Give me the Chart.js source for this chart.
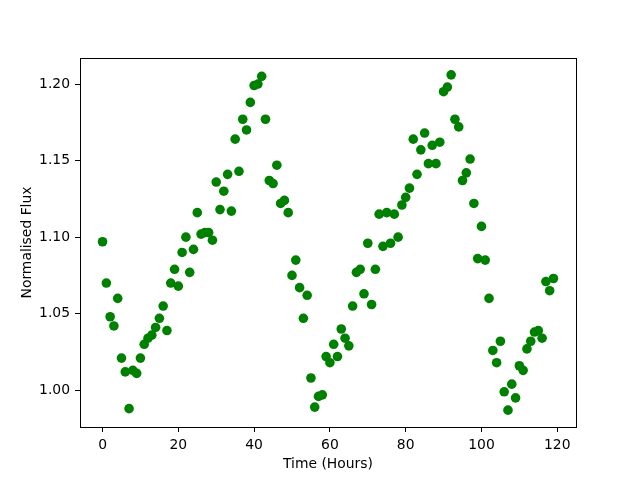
<!DOCTYPE html>
<html>
<head>
<meta charset="utf-8">
<script src="https://cdn.jsdelivr.net/npm/chart.js@4/dist/chart.umd.min.js"></script>
<style>
  html, body { margin: 0; padding: 0; background: #fff; }
  #wrap { width: 640px; height: 480px; }
</style>
</head>
<body>
<div id="wrap"><canvas id="fluxChart" width="640" height="480"></canvas></div>
<script>
// light curve readings
const hours = [
  0, 1, 2, 3, 4, 5, 6, 7, 8, 9, 10, 11, 12, 13, 14, 15, 16, 17, 18, 19,
  20, 21, 22, 23, 24, 25, 26, 27, 28, 29, 30, 31, 32, 33, 34, 35, 36, 37, 38, 39,
  40, 41, 42, 43, 44, 45, 46, 47, 48, 49, 50, 51, 52, 53, 54, 55, 56, 57, 58, 59,
  60, 61, 62, 63, 64, 65, 66, 67, 68, 69, 70, 71, 72, 73, 74, 75, 76, 77, 78, 79,
  80, 81, 82, 83, 84, 85, 86, 87, 88, 89, 90, 91, 92, 93, 94, 95, 96, 97, 98, 99,
  100, 101, 102, 103, 104, 105, 106, 107, 108, 109, 110, 111, 112, 113, 114, 115, 116, 117, 118, 119
];
const flux = [
  1.097, 1.070, 1.048, 1.042, 1.060, 1.021, 1.012, 0.988, 1.013, 1.011,
  1.021, 1.030, 1.034, 1.036, 1.041, 1.047, 1.055, 1.039, 1.070, 1.079,
  1.068, 1.090, 1.100, 1.077, 1.092, 1.116, 1.102, 1.103, 1.103, 1.098,
  1.136, 1.118, 1.130, 1.141, 1.117, 1.164, 1.143, 1.177, 1.170, 1.188,
  1.199, 1.200, 1.205, 1.177, 1.137, 1.135, 1.147, 1.122, 1.124, 1.116,
  1.075, 1.085, 1.067, 1.047, 1.062, 1.008, 0.989, 0.996, 0.997, 1.022,
  1.018, 1.030, 1.022, 1.040, 1.034, 1.029, 1.055, 1.077, 1.079, 1.063,
  1.096, 1.056, 1.079, 1.115, 1.094, 1.116, 1.096, 1.115, 1.100, 1.121,
  1.126, 1.132, 1.164, 1.141, 1.157, 1.168, 1.148, 1.160, 1.148, 1.162,
  1.195, 1.198, 1.206, 1.177, 1.172, 1.137, 1.142, 1.151, 1.122, 1.086,
  1.107, 1.085, 1.060, 1.026, 1.018, 1.032, 0.999, 0.987, 1.004, 0.995,
  1.016, 1.013, 1.027, 1.032, 1.038, 1.039, 1.034, 1.071, 1.065, 1.073
];
const xTicks = [0, 20, 40, 60, 80, 100, 120];
const yTicks = [1.00, 1.05, 1.10, 1.15, 1.20];

const FONT = { family: 'DejaVu Sans', size: 13.9 };

// full box around the plot, like matplotlib spines
const boxPlugin = {
  id: 'box',
  afterDraw(chart) {
    const a = chart.chartArea;
    const c = chart.ctx;
    c.save();
    c.strokeStyle = '#000';
    c.lineWidth = 1;
    c.strokeRect(Math.round(a.left) + 0.5, Math.round(a.top) + 0.5,
      Math.round(a.right - a.left), Math.round(a.bottom - a.top));
    c.restore();
  }
};

new Chart(document.getElementById('fluxChart'), {
  type: 'scatter',
  data: {
    datasets: [{
      label: 'Flux',
      data: hours.map((h, i) => ({ x: h, y: flux[i] })),
      backgroundColor: '#008000',
      borderColor: '#008000',
      borderWidth: 0,
      pointRadius: 4.8,
      pointHoverRadius: 4.8
    }]
  },
  options: {
    responsive: false,
    animation: false,
    events: [],
    layout: { padding: { left: 0, right: 64, top: 58, bottom: 0 } },
    plugins: { legend: { display: false }, tooltip: { enabled: false } },
    scales: {
      x: {
        type: 'linear',
        min: -5.95,
        max: 124.95,
        afterBuildTicks: s => { s.ticks = xTicks.map(v => ({ value: v })); },
        afterFit: s => { s.height = 53; },
        grid: { display: true, drawOnChartArea: false, drawTicks: true, tickLength: 5, color: '#000', tickWidth: 1 },
        border: { display: true, color: '#000' },
        ticks: { color: '#000', font: FONT, padding: 5, maxRotation: 0, callback: v => String(v) },
        title: { display: true, text: 'Time (Hours)', color: '#000', font: FONT, padding: { top: 0, bottom: 7 } }
      },
      y: {
        type: 'linear',
        min: 0.976,
        max: 1.217,
        afterBuildTicks: s => { s.ticks = yTicks.map(v => ({ value: v })); },
        afterFit: s => { s.width = 80; },
        grid: { display: true, drawOnChartArea: false, drawTicks: true, tickLength: 5, color: '#000', tickWidth: 1 },
        border: { display: true, color: '#000' },
        ticks: { color: '#000', font: FONT, padding: 5, callback: v => v.toFixed(2) },
        title: { display: true, text: 'Normalised Flux', color: '#000', font: FONT, padding: { top: 19, bottom: 0 } }
      }
    }
  },
  plugins: [boxPlugin]
});
</script>
</body>
</html>
